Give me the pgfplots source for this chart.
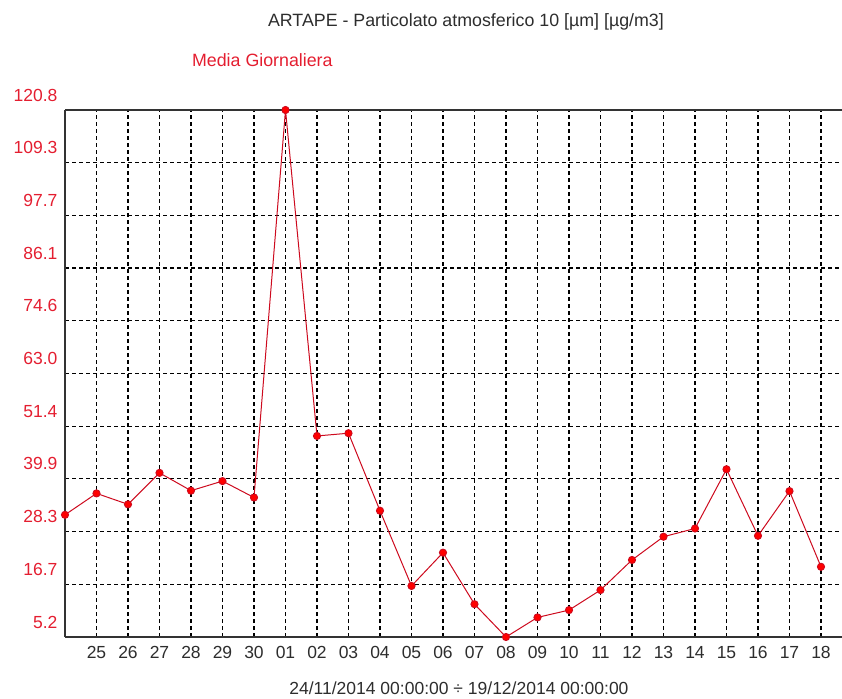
\documentclass[border=0pt]{standalone}
\usepackage{pgfplots}
\pgfplotsset{compat=1.18}
\usepackage{fontspec}
\setmainfont{Liberation Sans}
\definecolor{labred}{RGB}{228,30,48}
\definecolor{linered}{RGB}{205,10,30}
\definecolor{txtgray}{RGB}{45,45,45}
\begin{document}
\begin{tikzpicture}
\begin{axis}[
  name=ax,
  scale only axis,
  width=777pt, height=527pt,
  xmin=0, xmax=24.667,
  ymin=5.2, ymax=120.8,
  axis x line*=box,
  axis y line*=left,
  y axis line style={-},
  axis line style={line width=1.4pt, black!80},
  xtick={1,...,24},
  xticklabels={25,26,27,28,29,30,01,02,03,04,05,06,07,08,09,10,11,12,13,14,15,16,17,18},
  ytick={5.2,16.76,28.32,39.88,51.44,63.0,74.56,86.12,97.68,109.24,120.8},
  yticklabels={5.2,16.7,28.3,39.9,51.4,63.0,74.6,86.1,97.7,109.3,120.8},
  major tick length=0pt,
  tick style={draw=none},
  grid=major,
  major grid style={black, line width=1.2pt, dash pattern=on 4pt off 3pt},
  /pgf/number format/assume math mode=true,
  ticklabel style={font=\fontsize{17.5}{20}\selectfont},
  yticklabel style={text=labred, anchor=east, yshift=15pt, xshift=-4pt},
  xticklabel style={text=txtgray, yshift=-6pt},
  xlabel={24/11/2014 00:00:00 ÷ 19/12/2014 00:00:00},
  xlabel style={font=\fontsize{17.5}{20}\selectfont, text=txtgray, at={(axis description cs:0.507,-0.0968)}, anchor=center},
  clip=false,
]
\addplot[linered, line width=1pt, mark=*, mark size=3.6pt,
  mark options={fill=red, draw=linered, line width=0.9pt}]
coordinates {
(0,32.0) (1,36.7) (2,34.3) (3,41.2) (4,37.3) (5,39.4) (6,35.8)
(7,120.8) (8,49.3) (9,49.9) (10,32.9) (11,16.4) (12,23.7) (13,12.4)
(14,5.2) (15,9.5) (16,11.1) (17,15.5) (18,22.1) (19,27.2) (20,29.0)
(21,42.0) (22,27.4) (23,37.2) (24,20.6)
};
\node[font=\fontsize{17.8}{20}\selectfont, text=txtgray, anchor=center] at (axis description cs:0.516,1.167) {ARTAPE - Particolato atmosferico 10 [µm] [µg/m3]};
\node[font=\fontsize{17.8}{20}\selectfont, text=labred, anchor=center] at (axis description cs:0.254,1.095) {Media Giornaliera};
\end{axis}
\pgfresetboundingbox
\useasboundingbox ([xshift=-65pt,yshift=-61pt]ax.south west) rectangle ([yshift=110pt]ax.north east);
\end{tikzpicture}
\end{document}
